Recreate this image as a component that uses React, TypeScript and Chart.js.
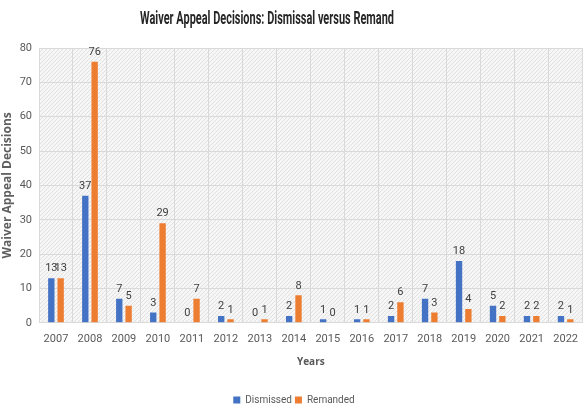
import React, { useEffect, useRef } from "react";
import { Chart, registerables } from "chart.js";

Chart.register(...registerables);

const chartTitle = "Waiver Appeal Decisions: Dismissal versus Remand";
const years = ["2007", "2008", "2009", "2010", "2011", "2012", "2013", "2014", "2015", "2016", "2017", "2018", "2019", "2020", "2021", "2022"];
const dismissed = [13, 37, 7, 3, 0, 2, 0, 2, 1, 1, 2, 7, 18, 5, 2, 2];
const remanded = [13, 76, 5, 29, 7, 1, 1, 8, 0, 1, 6, 3, 4, 2, 2, 1];

const NARROW = "'Roboto', 'Liberation Sans', sans-serif";
const WIDE = "'Open Sans', 'Noto Sans', sans-serif";

function makeHatch(): CanvasPattern | string {
  const c = document.createElement("canvas");
  c.width = 4;
  c.height = 4;
  const g = c.getContext("2d");
  if (!g) return "#f2f2f2";
  g.fillStyle = "#f6f6f6";
  g.fillRect(0, 0, 4, 4);
  g.strokeStyle = "#e1e1e1";
  g.lineWidth = 1;
  g.beginPath();
  g.moveTo(0, 4);
  g.lineTo(4, 0);
  g.moveTo(-1, 1);
  g.lineTo(1, -1);
  g.moveTo(3, 5);
  g.lineTo(5, 3);
  g.stroke();
  const p = g.createPattern(c, "repeat");
  return p || "#f2f2f2";
}

const plotBackground = {
  id: "plotBackground",
  beforeDraw(chart: any) {
    const { ctx, chartArea } = chart;
    if (!chartArea) return;
    ctx.save();
    ctx.fillStyle = makeHatch();
    ctx.fillRect(chartArea.left, chartArea.top, chartArea.right - chartArea.left, chartArea.bottom - chartArea.top);
    ctx.restore();
  },
};

// Bold heading in a condensed setting, squeezed horizontally to a narrow width
const condensedTitle = {
  id: "condensedTitle",
  afterDraw(chart: any) {
    const { ctx } = chart;
    ctx.save();
    ctx.font = `bold 19px ${NARROW}`;
    const w = ctx.measureText(chartTitle).width;
    const target = 254;
    const sx = Math.min(1, target / w);
    ctx.translate(267, 19);
    ctx.scale(sx, 1);
    ctx.fillStyle = "#262626";
    ctx.textAlign = "center";
    ctx.textBaseline = "middle";
    ctx.fillText(chartTitle, 0, 0);
    ctx.restore();
  },
};

const valueLabels = {
  id: "valueLabels",
  afterDatasetsDraw(chart: any) {
    const { ctx } = chart;
    ctx.save();
    ctx.font = `11px ${NARROW}`;
    ctx.fillStyle = "#404040";
    ctx.textAlign = "center";
    ctx.textBaseline = "bottom";
    chart.data.datasets.forEach((ds: any, i: number) => {
      const meta = chart.getDatasetMeta(i);
      meta.data.forEach((bar: any, j: number) => {
        ctx.fillText(String(ds.data[j]), bar.x, bar.y - 4);
      });
    });
    ctx.restore();
  },
};

export default function App() {
  const ref = useRef<HTMLCanvasElement>(null);

  useEffect(() => {
    if (!ref.current) return;
    const chart = new Chart(ref.current, {
      type: "bar",
      data: {
        labels: years,
        datasets: [
          { label: "Dismissed", data: dismissed, backgroundColor: "#4472C4" },
          { label: "Remanded", data: remanded, backgroundColor: "#ED7D31" },
        ],
      },
      options: {
        animation: false,
        responsive: false,
        maintainAspectRatio: false,
        layout: { padding: { left: 0, right: 0, top: 48, bottom: 0 } },
        datasets: {
          bar: { categoryPercentage: 0.55, barPercentage: 0.68 },
        },
        plugins: {
          title: { display: false },
          legend: {
            position: "bottom",
            labels: {
              boxWidth: 7,
              boxHeight: 7,
              font: { family: NARROW, size: 10 },
              color: "#595959",
              padding: 3,
            },
          },
          tooltip: { enabled: false },
        },
        scales: {
          x: {
            grid: { color: "#d9d9d9", drawTicks: false, offset: true },
            border: { display: false },
            ticks: { font: { family: NARROW, size: 11 }, color: "#595959", padding: 10 },
            title: {
              display: true,
              text: "Years",
              font: { family: WIDE, size: 10, weight: "bold" },
              color: "#595959",
              padding: { top: 0, bottom: 24 },
            },
          },
          y: {
            min: 0,
            max: 80,
            grid: { color: "#d9d9d9", drawTicks: false },
            border: { display: false },
            ticks: { stepSize: 10, font: { family: NARROW, size: 11 }, color: "#595959", padding: 7 },
            title: {
              display: true,
              text: "Waiver Appeal Decisions",
              font: { family: WIDE, size: 12, weight: "bold" },
              color: "#5f5f5f",
              padding: { top: 0, bottom: 3 },
            },
            afterFit(scale: any) {
              scale.width = 39;
            },
          },
        },
      },
      plugins: [plotBackground, valueLabels, condensedTitle],
    });
    return () => chart.destroy();
  }, []);

  return (
    <div style={{ position: "fixed", left: 0, top: 0, width: 588, height: 407, overflow: "hidden", background: "#fff" }}>
      <canvas ref={ref} width={588} height={415} />
    </div>
  );
}
